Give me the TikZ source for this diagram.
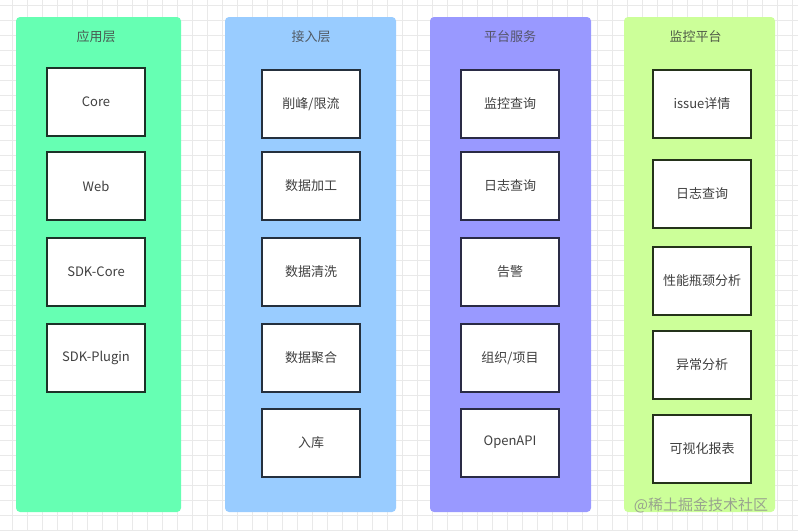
\documentclass[tikz,border=0pt]{standalone}
\usepackage{fontspec}
\setmainfont{Noto Sans CJK SC}
\begin{document}
\begin{tikzpicture}[x=1pt,y=-1pt,
  colbox/.style={rounded corners=4pt, inner sep=0pt, draw=none},
  itembox/.style={draw, line width=2pt, fill=white, inner sep=0pt,
     minimum width=98pt, minimum height=68pt, text=black!75,
     font=\fontsize{13}{15}\selectfont},
  header/.style={inner sep=0pt, font=\fontsize{13}{15}\selectfont}]
\definecolor{gA}{HTML}{66FFB3}
\definecolor{gB}{HTML}{99CCFF}
\definecolor{gC}{HTML}{9999FF}
\definecolor{gD}{HTML}{CCFF99}
\definecolor{bA}{HTML}{1C3328}
\definecolor{bB}{HTML}{25303D}
\definecolor{bC}{HTML}{2A2B45}
\definecolor{bD}{HTML}{24321A}
\definecolor{gridc}{HTML}{E9E9E9}
\useasboundingbox (0,0) rectangle (798,531);
\fill[white] (0,0) rectangle (798,531);
% grid
\foreach \k in {0,...,52} {
  \draw[gridc, line width=0.8pt] (12.7+15*\k,0) -- (12.7+15*\k,531);
}
\foreach \k in {0,...,35} {
  \draw[gridc, line width=0.8pt] (0,5.7+15*\k) -- (798,5.7+15*\k);
}
% columns
\node[colbox, fill=gA, minimum width=165pt, minimum height=495pt] (colA) at (98.5,264.5) {};
\node[colbox, fill=gB, minimum width=171pt, minimum height=495pt] (colB) at (310.5,264.5) {};
\node[colbox, fill=gC, minimum width=161pt, minimum height=495pt] (colC) at (510.5,264.5) {};
\node[colbox, fill=gD, minimum width=151pt, minimum height=495pt] (colD) at (699.5,264.5) {};
% headers
\node[header, text=bA!80] (hA) at (96,37) {应用层};
\node[header, text=bB!80] (hB) at (311,37) {接入层};
\node[header, text=bC!80] (hC) at (510,37) {平台服务};
\node[header, text=bD!80] (hD) at (695.5,37) {监控平台};
% column 1
\node[itembox, draw=bA] (a1) at (96,102) {Core};
\node[itembox, draw=bA] (a2) at (96,186) {Web};
\node[itembox, draw=bA] (a3) at (96,272) {SDK-Core};
\node[itembox, draw=bA] (a4) at (96,358) {SDK-Plugin};
% column 2
\node[itembox, draw=bB] (b1) at (311,104) {削峰/限流};
\node[itembox, draw=bB] (b2) at (311,186) {数据加工};
\node[itembox, draw=bB] (b3) at (311,272) {数据清洗};
\node[itembox, draw=bB] (b4) at (311,357.5) {数据聚合};
\node[itembox, draw=bB] (b5) at (311,442.5) {入库};
% column 3
\node[itembox, draw=bC] (c1) at (510,104) {监控查询};
\node[itembox, draw=bC] (c2) at (510,186) {日志查询};
\node[itembox, draw=bC] (c3) at (510,271.5) {告警};
\node[itembox, draw=bC] (c4) at (510,358) {组织/项目};
\node[itembox, draw=bC] (c5) at (510,442.5) {OpenAPI};
% column 4
\node[itembox, draw=bD] (d1) at (702,104) {issue详情};
\node[itembox, draw=bD] (d2) at (702,194) {日志查询};
\node[itembox, draw=bD] (d3) at (702,281) {性能瓶颈分析};
\node[itembox, draw=bD] (d4) at (702,364.5) {异常分析};
\node[itembox, draw=bD] (d5) at (702,449) {可视化报表};
% watermark
\node[inner sep=0pt, text=black!45, opacity=0.8, font=\fontsize{15}{17}\selectfont] (wm) at (701,505) {@稀土掘金技术社区};
\end{tikzpicture}
\end{document}
